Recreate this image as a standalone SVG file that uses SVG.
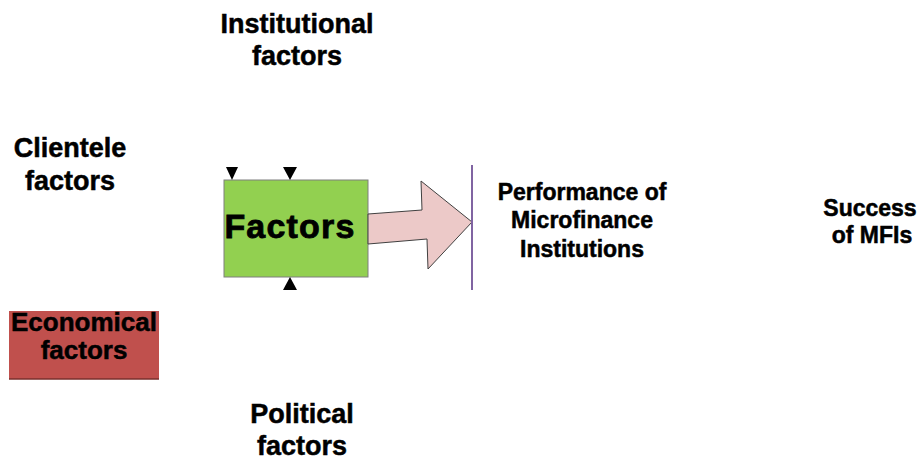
<svg xmlns="http://www.w3.org/2000/svg" width="922" height="462" viewBox="0 0 922 462">
<style>
  text { font-family: "Liberation Sans", Arial, sans-serif; font-weight: bold; fill: #000; stroke: #000; stroke-width: 0.5px; text-anchor: middle; }
  .lbl { font-size: 27px; }
  .perf { font-size: 23px; }
  .succ { font-size: 23px; }
  .tri { fill: #000; }
</style>
<rect width="922" height="462" fill="#fff"/>
<g id="institutional">
  <text class="lbl" x="297" y="33">Institutional</text>
  <text class="lbl" x="297" y="65">factors</text>
</g>
<g id="clientele">
  <text class="lbl" x="70" y="157">Clientele</text>
  <text class="lbl" x="70" y="190">factors</text>
</g>
<g id="economical">
  <rect x="9" y="311" width="150" height="68" fill="#c0504d"/>
  <line x1="9" y1="379" x2="159" y2="379" stroke="#7a2f2c" stroke-width="1.5"/>
  <text class="lbl" x="84" y="331" style="font-size:26px">Economical</text>
  <text class="lbl" x="84" y="359" style="font-size:26px">factors</text>
</g>
<g id="political">
  <text class="lbl" x="302" y="423">Political</text>
  <text class="lbl" x="302" y="455">factors</text>
</g>
<g id="factors">
  <rect x="224" y="180" width="144" height="97" fill="#92d050" stroke="#7f7f7f" stroke-width="1"/>
  <text x="290" y="238" style="font-size:34px;letter-spacing:1.2px;stroke-width:0.8px">Factors</text>
</g>
<g id="performance">
  <text class="perf" x="582" y="200">Performance of</text>
  <text class="perf" x="582" y="228">Microfinance</text>
  <text class="perf" x="582" y="257">Institutions</text>
</g>
<g id="success">
  <text class="succ" x="870" y="216">Success</text>
  <text class="succ" x="872" y="243">of MFIs</text>
</g>
<g id="connectors">
  <polygon class="tri" points="226,167 238,167 232,180"/>
  <polygon class="tri" points="283,167 297,167 290,180"/>
  <polygon class="tri" points="283,290 297,290 290,277"/>
  <polygon points="368,214 422,210 421,181 472,222 428,269 427,239 368,244" fill="#ecc9c8" stroke="#404040" stroke-width="1"/>
  <line x1="472" y1="165" x2="472" y2="290" stroke="#8064a2" stroke-width="2"/>
</g>
</svg>
